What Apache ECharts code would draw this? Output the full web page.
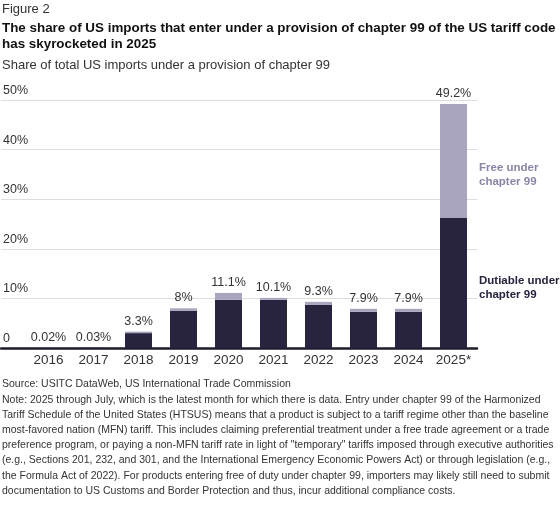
<!DOCTYPE html>
<html>
<head>
<meta charset="utf-8">
<script src="https://cdn.jsdelivr.net/npm/echarts@6/dist/echarts.min.js"></script>
<style>
  html, body { margin: 0; padding: 0; background: #fff; }
  #chart { width: 560px; height: 524px; }
</style>
</head>
<body>
<div id="chart"></div>
<script>
// values (percent of total US imports)
const years = ['2016', '2017', '2018', '2019', '2020', '2021', '2022', '2023', '2024', '2025*'];
const dutiable = [0.02, 0.03, 3.0, 7.5, 9.7, 9.7, 8.7, 7.3, 7.3, 26.2];
const free = [0, 0, 0.3, 0.5, 1.4, 0.4, 0.6, 0.6, 0.6, 23.0];
const totals = [0.02, 0.03, 3.3, 8, 11.1, 10.1, 9.3, 7.9, 7.9, 49.2];
const yTicks = [0, 10, 20, 30, 40, 50];

const footer = [
  'Source: USITC DataWeb, US International Trade Commission',
  'Note: 2025 through July, which is the latest month for which there is data. Entry under chapter 99 of the Harmonized',
  'Tariff Schedule of the United States (HTSUS) means that a product is subject to a tariff regime other than the baseline',
  'most-favored nation (MFN) tariff. This includes claiming preferential treatment under a free trade agreement or a trade',
  'preference program, or paying a non-MFN tariff rate in light of "temporary" tariffs imposed through executive authorities',
  '(e.g., Sections 201, 232, and 301, and the International Emergency Economic Powers Act) or through legislation (e.g.,',
  'the Formula Act of 2022). For products entering free of duty under chapter 99, importers may likely still need to submit',
  'documentation to US Customs and Border Protection and thus, incur additional compliance costs.'
];

const FONT = '"Liberation Sans", Arial, sans-serif';
const DARK = '#28233e';
const LIGHT = '#a9a5bf';

const chart = echarts.init(document.getElementById('chart'), null, { renderer: 'canvas' });

const option = {
  backgroundColor: '#fff',
  animation: false,
  textStyle: { fontFamily: FONT },
  title: [
    {
      text: 'Figure 2', left: 2, top: 1, padding: 0,
      textStyle: { fontFamily: FONT, fontSize: 13, fontWeight: 'normal', color: '#333', lineHeight: 16 }
    },
    {
      text: 'The share of US imports that enter under a provision of chapter 99 of the US tariff code\nhas skyrocketed in 2025',
      left: 2, top: 20, padding: 0,
      textStyle: { fontFamily: FONT, fontSize: 13.4, fontWeight: 'bold', color: '#111', lineHeight: 16.5 }
    },
    {
      text: 'Share of total US imports under a provision of chapter 99',
      left: 2, top: 57, padding: 0,
      textStyle: { fontFamily: FONT, fontSize: 13, fontWeight: 'normal', color: '#333', lineHeight: 16 }
    },
    {
      text: footer.join('\n'),
      left: 2, top: 377, padding: 0,
      textStyle: { fontFamily: FONT, fontSize: 10.5, fontWeight: 'normal', color: '#333', lineHeight: 15.2 }
    }
  ],
  grid: [
    // full-width grid: gridlines, tick labels and baseline
    { left: 0, right: 83, top: 100, bottom: 176 },
    // bars
    { left: 26, right: 84, top: 100, bottom: 176 }
  ],
  xAxis: [
    {
      gridIndex: 0, type: 'value', min: 0, max: 1,
      axisLine: { show: true, lineStyle: { color: '#1f1b2e', width: 2.5 } },
      axisTick: { show: false }, axisLabel: { show: false }, splitLine: { show: false }
    },
    {
      gridIndex: 1, type: 'category', data: years,
      axisLine: { show: false }, axisTick: { show: false },
      axisLabel: { interval: 0, color: '#333', fontSize: 13.5, fontFamily: FONT, margin: 5 }
    }
  ],
  yAxis: [
    {
      gridIndex: 0, type: 'value', min: yTicks[0], max: yTicks[yTicks.length - 1], interval: 10,
      axisLine: { show: false }, axisTick: { show: false },
      splitLine: { show: true, lineStyle: { color: '#dedede', width: 1 } },
      axisLabel: {
        inside: true, margin: 2, verticalAlign: 'bottom', padding: [0, 0, 3, 0],
        color: '#333', fontSize: 12.5, fontFamily: FONT,
        formatter: v => (v === 0 ? '0' : v + '%')
      }
    },
    {
      gridIndex: 1, type: 'value', min: yTicks[0], max: yTicks[yTicks.length - 1],
      show: false
    }
  ],
  series: [
    {
      name: 'Dutiable under chapter 99', type: 'bar', stack: 'ch99',
      xAxisIndex: 1, yAxisIndex: 1, barWidth: 27,
      itemStyle: { color: DARK },
      data: dutiable.map((v, i) => i === years.length - 1 ? {
        value: v,
        label: {
          show: true, position: 'right', distance: 12, offset: [0, 5],
          formatter: 'Dutiable under\nchapter 99',
          color: DARK, fontWeight: 'bold', fontSize: 11.5, lineHeight: 14, fontFamily: FONT
        }
      } : v)
    },
    {
      name: 'Free under chapter 99', type: 'bar', stack: 'ch99',
      xAxisIndex: 1, yAxisIndex: 1, barWidth: 27,
      itemStyle: { color: LIGHT },
      data: free.map((v, i) => i === years.length - 1 ? {
        value: v,
        label: {
          show: true, position: 'right', distance: 12, offset: [0, 14],
          formatter: 'Free under\nchapter 99',
          color: '#8a85a6', fontWeight: 'bold', fontSize: 11.5, lineHeight: 14, fontFamily: FONT
        }
      } : v)
    },
    {
      name: 'Total', type: 'bar', xAxisIndex: 1, yAxisIndex: 1,
      barWidth: 27, barGap: '-100%', silent: true, z: 1,
      itemStyle: { color: 'rgba(0,0,0,0)' },
      label: {
        show: true, position: 'top', distance: 4,
        color: '#333', fontSize: 12.5, fontFamily: FONT,
        formatter: p => p.value + '%'
      },
      data: totals
    }
  ]
};

chart.setOption(option);
</script>
</body>
</html>
